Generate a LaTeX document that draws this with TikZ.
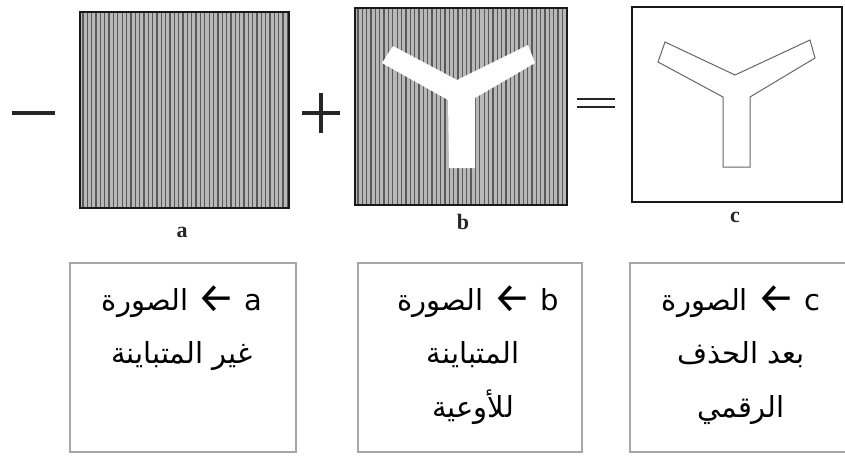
\documentclass[tikz,border=0pt]{standalone}
\usepackage{fontspec}
\setmainfont{Liberation Serif}
\newfontfamily\arfont[Script=Arabic]{DejaVu Sans}
\newfontfamily\arrfont{Fira Sans}
\TeXXeTstate=1
\newcommand{\bigarr}{{\arrfont\fontsize{42}{42}\selectfont\raisebox{-2pt}{←}}}
\begin{document}
\begin{tikzpicture}[x=1pt,y=-1pt,
  frame/.style={draw=black!90,line width=1.8pt},
  stripe/.style={draw=black!65,line width=1.3pt},
  sign/.style={draw=black!85,line width=3.4pt},
  letter/.style={font=\fontsize{22}{22}\selectfont\bfseries,text=black!85},
  txtbox/.style={draw=black!35,line width=2.4pt},
  arline/.style={anchor=base,inner sep=0pt,font=\arfont\fontsize{29}{29}\selectfont}
]
\useasboundingbox (0,0) rectangle (845,455);
\fill[white] (0,0) rectangle (845,455);

% square a
\fill[black!28] (80,12) rectangle (289,208);
\foreach \i in {0,...,47} \draw[stripe] (83+\i*4.35,12) -- (83+\i*4.35,208);
\draw[frame] (80,12) rectangle (289,208);

% square b
\fill[black!28] (355,8) rectangle (567,205);
\foreach \i in {0,...,48} \draw[stripe] (358+\i*4.35,8) -- (358+\i*4.35,205);
\draw[frame] (355,8) rectangle (567,205);
\fill[white] (393,46) -- (382,63) -- (448,100) -- (449,168) -- (475,168) -- (475,98) -- (535,63) -- (528,45) -- (457,80) -- cycle;

% square c
\draw[frame,line width=1.5pt] (632,7) rectangle (842,202);
\draw[black!60,line width=1pt] (665,42) -- (658,62) -- (723,97) -- (723,167) -- (750,167) -- (750,97) -- (815,58) -- (810,40) -- (735,75) -- cycle;

% signs
\draw[sign] (12,113) -- (55,113);
\draw[sign] (302,113) -- (340,113);
\draw[sign] (321,93) -- (321,133);
\draw[sign,line width=2.8pt] (577,99) -- (615,99);
\draw[sign,line width=2.8pt] (577,107) -- (615,107);

% letters
\node[letter] (la) at (182,232) {a};
\node[letter] (lb) at (463,222) {b};
\node[letter] (lc) at (735,217) {c};

% text boxes
\draw[txtbox] (70,263) rectangle (296,452);
\draw[txtbox] (358,263) rectangle (582,452);
\draw[txtbox] (630,263) rectangle (852,452);

\node[arline] (ta1) at (182,310) {\beginR الصورة\endR\ \bigarr\ a};
\node[arline] (ta2) at (182,363) {\beginR غير المتباينة\endR};

\node[arline] (tb1) at (478,310) {\beginR الصورة\endR\ \bigarr\ b};
\node[arline] (tb2) at (473,363) {\beginR المتباينة\endR};
\node[arline] (tb3) at (473,417) {\beginR للأوعية\endR};

\node[arline] (tc1) at (741,310) {\beginR الصورة\endR\ \bigarr\ c};
\node[arline] (tc2) at (741,363) {\beginR بعد الحذف\endR};
\node[arline] (tc3) at (741,417) {\beginR الرقمي\endR};
\end{tikzpicture}
\end{document}
